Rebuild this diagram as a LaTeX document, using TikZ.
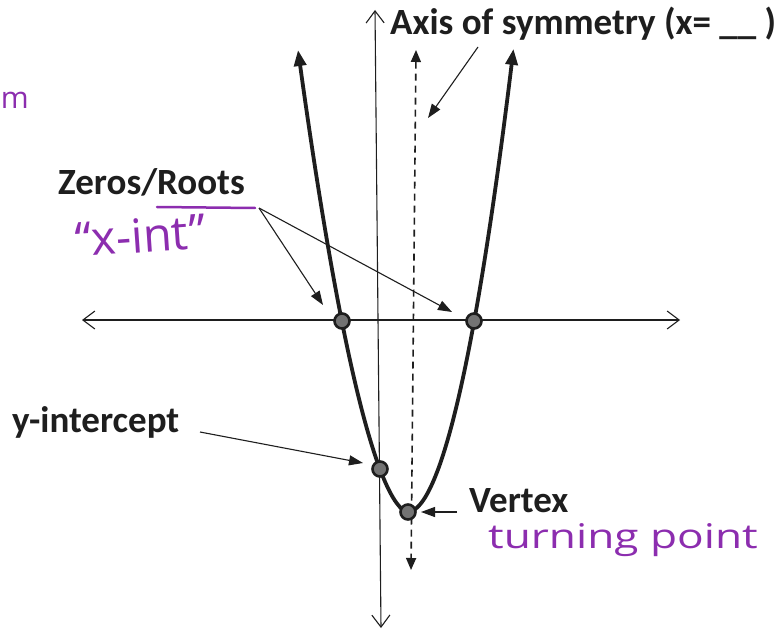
\documentclass[tikz,border=0pt]{standalone}
\usepackage{fontspec}
\setmainfont{Carlito}
\newfontfamily\handfont{Open Sans}
\usetikzlibrary{arrows.meta}
\definecolor{ink}{RGB}{30,30,30}
\definecolor{pen}{RGB}{140,45,175}
\begin{document}
\begin{tikzpicture}[x=1pt,y=-1pt,
  axisline/.style={draw=ink, line width=1.1pt, {Straight Barb[length=12pt,width=18pt]}-{Straight Barb[length=12pt,width=18pt]}},
  curveline/.style={draw=ink, line width=3.8pt, {Triangle[length=16pt,width=12pt]}-{Triangle[length=16pt,width=12pt]}},
  symline/.style={draw=ink, line width=1.6pt, dash pattern=on 7pt off 5pt, {Triangle[length=12pt,width=10pt]}-{Triangle[length=12pt,width=10pt]}},
  pointer/.style={draw=ink, line width=1.1pt, -{Triangle[length=14pt,width=10pt]}},
  dot/.style={circle, draw=ink, line width=2.6pt, fill=black!55, minimum size=15pt, inner sep=0pt},
  lbl/.style={font=\bfseries\fontsize{37}{44}\selectfont, text=ink, inner sep=0pt},
  hand/.style={font=\handfont\fontsize{47}{52}\selectfont, text=pen, inner sep=0pt}]
\fill[white] (0,0) rectangle (784,631);
\useasboundingbox (0,0) rectangle (784,631);
% axes
\coordinate (ytop) at (375,10);
\coordinate (ybot) at (381,628);
\coordinate (xl) at (82,320);
\coordinate (xr) at (680,320);
\draw[axisline] (xl) -- (xr);
\draw[axisline] (ytop) -- (ybot);
% axis of symmetry
\coordinate (st) at (416,50);
\coordinate (sb) at (411,570);
\draw[symline] (st) -- (sb);
% parabola
\draw[curveline] plot[domain=-110:-0.2, samples=70] ({\x+408}, {512-190*(abs(\x)/66)^1.74})
  -- plot[domain=0.2:105.5, samples=70] ({\x+408}, {512-190*(\x/66)^1.9});
% points
\node[dot] (z1) at (342,321) {};
\node[dot] (z2) at (474,321) {};
\node[dot] (yi) at (380,469) {};
\node[dot] (v) at (408,512) {};
% labels
\node[lbl, anchor=base west] (axl) at (390,35) {Axis of symmetry (x= \_\_ )};
\node[lbl, anchor=base west] (zr) at (58,195) {Zeros/Roots};
\node[lbl, anchor=base west] (yl) at (12,432) {y-intercept};
\node[lbl, anchor=base west] (vl) at (469,512) {Vertex};
% pointers
\coordinate (as) at (478,47);
\coordinate (at) at (428,118);
\draw[pointer] (as) -- (at);
\coordinate (zs) at (259,208);
\coordinate (zt1) at (323,305);
\coordinate (zt2) at (452,312);
\draw[pointer] (zs) -- (zt1);
\draw[pointer] (zs) -- (zt2);
\coordinate (ys) at (200,432);
\coordinate (yt) at (363,463);
\draw[pointer] (ys) -- (yt);
\coordinate (vs) at (457,512);
\coordinate (vt) at (421,512);
\draw[pointer] (vs) -- (vt);
% handwriting
\coordinate (ul1) at (157,207);
\coordinate (ul2) at (255,208);
\draw[pen, line width=2.5pt, line cap=round] (ul1) -- (ul2);
\node[hand, anchor=base west, rotate=4] (xi) at (76,257) {“x-int”};
\node[hand, font=\handfont\fontsize{34}{40}\selectfont, anchor=base west] (tp) at (488,548) {\scalebox{1.3}[1]{turning point}};
\node[hand, font=\handfont\fontsize{30}{34}\selectfont, anchor=base east] (mm) at (29,109) {m};
\end{tikzpicture}
\end{document}
